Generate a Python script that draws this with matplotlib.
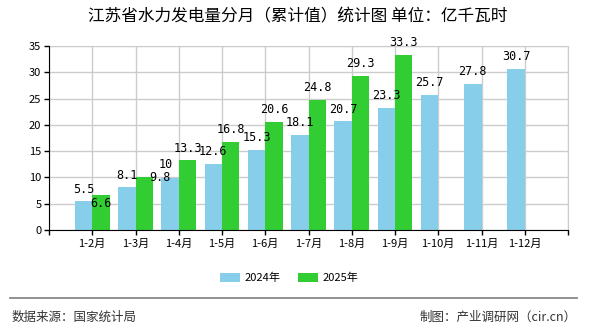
import matplotlib.pyplot as plt
import numpy as np
from matplotlib.lines import Line2D

# data
months = ['1-2月', '1-3月', '1-4月', '1-5月', '1-6月', '1-7月',
          '1-8月', '1-9月', '1-10月', '1-11月', '1-12月']
vals_2024 = [5.5, 8.1, 9.8, 12.6, 15.3, 18.1, 20.7, 23.3, 25.7, 27.8, 30.7]
vals_2025 = [6.6, 10, 13.3, 16.8, 20.6, 24.8, 29.3, 33.3]

plt.rcParams['font.family'] = ['Noto Sans CJK SC', 'DejaVu Sans']

fig = plt.figure(figsize=(5.9, 3.3), dpi=100)
ax = fig.add_axes([49 / 590, 1 - 230 / 330, 519 / 590, 184 / 330])

w = 0.4
x1 = np.arange(len(vals_2024))
x2 = np.arange(len(vals_2025))
b1 = ax.bar(x1 - w, vals_2024, width=w, align='edge', color='#87CEEB', label='2024年', zorder=2)
b2 = ax.bar(x2, vals_2025, width=w, align='edge', color='#32CD32', label='2025年', zorder=2)

# value labels, shifted a few where the original had them moved (pixels)
shift = {(0, 2): (-10, 1), (1, 0): (0, -8), (1, 1): (22, 13)}
px = 0.72
for s, (xs, vals) in enumerate([(x1 - w / 2, vals_2024), (x2 + w / 2, vals_2025)]):
    for i, (xx, v) in enumerate(zip(xs, vals)):
        dx, dy = shift.get((s, i), (0, 12))
        ax.annotate(f'{v:g}', (xx, v), xytext=(dx * px, dy * px), textcoords='offset points',
                    ha='center', va='center', fontsize=8.5, family='DejaVu Sans Mono', zorder=3)

ax.set_xlim(-1, 11)
ax.set_ylim(0, 35)
ax.set_yticks(np.arange(0, 36, 5))
ax.set_xticks(np.arange(-1, 12))
ax.set_xticklabels([''] + months + [''])
ax.tick_params(axis='both', direction='out', length=3.5, width=1, labelsize=8, pad=2)
ax.tick_params(axis='x', pad=3)
ax.grid(True, color='#cccccc', lw=1, zorder=0)
ax.set_axisbelow(True)
for k in ['top', 'right']:
    ax.spines[k].set_color('#cccccc')
for k in ['left', 'bottom']:
    ax.spines[k].set_color('black')
    ax.spines[k].set_zorder(4)

fig.text(0.505, 1 - 17 / 330, '江苏省水力发电量分月（累计值）统计图 单位：亿千瓦时',
         ha='center', va='center', fontsize=12)

fig.legend(handles=[b1, b2], loc='center', bbox_to_anchor=(0.49, 1 - 278 / 330), ncol=2,
           frameon=False, fontsize=8, handlelength=1.8, handleheight=0.9,
           handletextpad=0.4, columnspacing=1.6)

fig.add_artist(Line2D([10 / 590, 577 / 590], [1 - 298 / 330] * 2, transform=fig.transFigure,
                      color='#888888', lw=1.3))
fig.text(12 / 590, 1 - 317 / 330, '数据来源：国家统计局', ha='left', va='center', fontsize=9, color='#333333')
fig.text(577 / 590, 1 - 317 / 330, '制图：产业调研网（cir.cn）', ha='right', va='center', fontsize=9, color='#333333')

fig.savefig('out.png', dpi=100)
